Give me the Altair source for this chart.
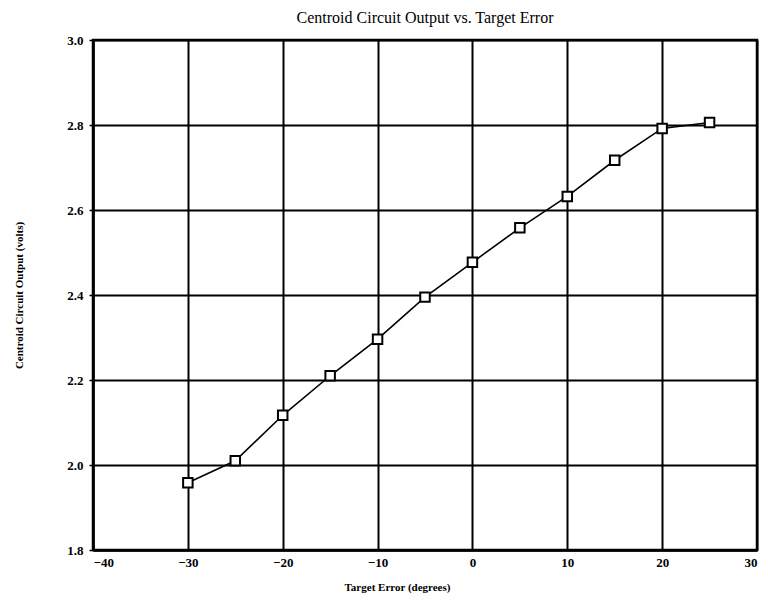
import altair as alt
import pandas as pd

error_deg = [-30, -25, -20, -15, -10, -5, 0, 5, 10, 15, 20, 25]
output_v = [1.958, 2.010, 2.117, 2.210, 2.296, 2.395, 2.477, 2.558, 2.632, 2.717, 2.792, 2.806]

df = pd.DataFrame({"err": error_deg, "v": output_v})

FONT = "Liberation Serif"

x = alt.X("err:Q", scale=alt.Scale(domain=[-40, 30], nice=False),
          axis=alt.Axis(values=list(range(-40, 31, 10)), title="Target Error (degrees)",
                        titleX=304, titlePadding=12))
y = alt.Y("v:Q", scale=alt.Scale(domain=[1.8, 3.0], nice=False, zero=False),
          axis=alt.Axis(values=[1.8, 2.0, 2.2, 2.4, 2.6, 2.8, 3.0], format=".1f",
                        title="Centroid Circuit Output (volts)", titlePadding=42))

line = alt.Chart(df).mark_line(color="black", strokeWidth=1.6).encode(x=x, y=y)
pts = alt.Chart(df).mark_point(shape="square", size=90, filled=True, fill="white",
                                stroke="black", strokeWidth=2, opacity=1).encode(x=x, y=y)

chart = (line + pts).properties(
    width=664, height=510,
    padding={"left": 85, "top": 32, "right": 2, "bottom": 45},
    autosize=alt.AutoSizeParams(type="none"),
    title=alt.TitleParams("Centroid Circuit Output vs. Target Error", font=FONT,
                          fontSize=16, fontWeight="normal", color="black", offset=8),
).configure_view(stroke="black", strokeWidth=2.5).configure_axis(
    grid=True, gridColor="black", gridWidth=2, gridOpacity=1,
    domainColor="black", domainWidth=2.5,
    tickColor="black", tickSize=4, tickWidth=1.5,
    labelFont=FONT, labelFontSize=13, labelFontWeight="bold", labelColor="black",
    labelPadding=6,
    titleFont=FONT, titleFontSize=11, titleFontWeight="bold", titleColor="black",
).configure_axisX(ticks=False, labelPadding=6)

chart.save("out.html", embed_options={"renderer": "svg", "actions": False})
